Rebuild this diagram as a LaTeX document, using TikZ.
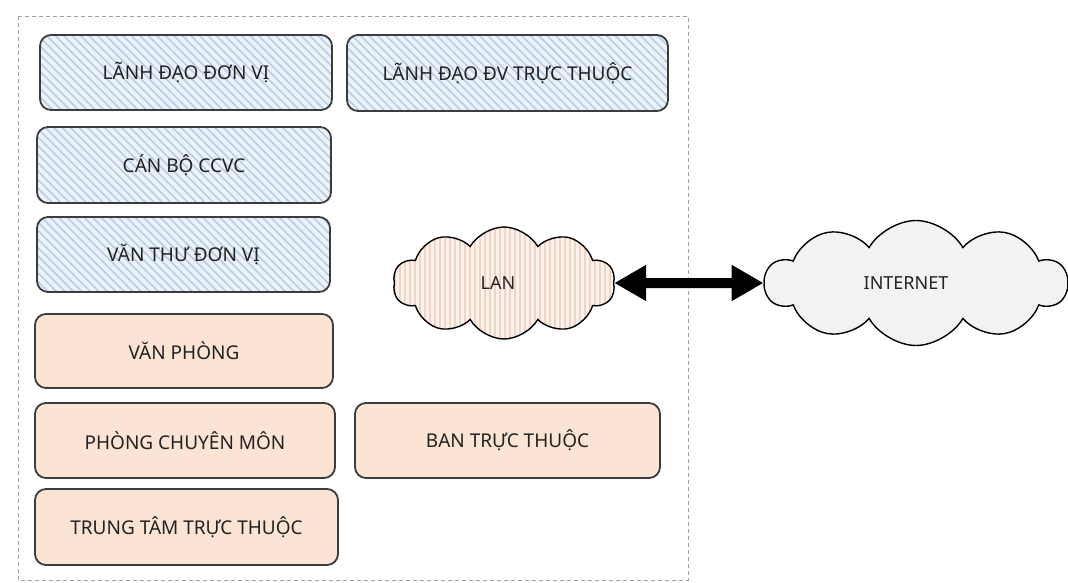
\documentclass[tikz,border=0pt]{standalone}
\usepackage{fontspec}
\setmainfont{Noto Sans}
\usetikzlibrary{shapes.symbols,patterns.meta,arrows.meta}
\definecolor{bluefill}{RGB}{236,242,249}
\definecolor{blueline}{RGB}{185,205,228}
\definecolor{orfill}{RGB}{252,228,212}
\definecolor{lanfill}{RGB}{253,242,236}
\definecolor{lanline}{RGB}{240,212,198}
\definecolor{netfill}{RGB}{242,242,242}
\definecolor{edge}{RGB}{60,60,60}
\definecolor{txt}{RGB}{35,35,35}
\definecolor{frame}{RGB}{160,160,160}
\tikzset{
  boxbase/.style={draw=edge, line width=1.8pt, rounded corners=11pt, inner sep=0pt,
    font=\fontsize{19}{21}\selectfont, text=txt},
  bluebox/.style={boxbase, preaction={fill=bluefill},
    pattern={Lines[angle=-45,distance=6pt,line width=1.6pt]}, pattern color=blueline},
  orbox/.style={boxbase, fill=orfill},
  cloudbase/.style={cloud, cloud puffs=10, cloud puff arc=120, aspect=2, draw=black,
    line width=1.4pt, inner sep=0pt, font=\fontsize{18}{20}\selectfont, text=txt},
  lancloud/.style={cloudbase, preaction={fill=lanfill},
    pattern={Lines[angle=90,distance=5pt,line width=1.4pt]}, pattern color=lanline},
  netcloud/.style={cloudbase, fill=netfill, font=\fontsize{18}{20}\selectfont\bfseries},
  link/.style={line width=10pt, {Triangle[length=32pt,width=34pt]}-{Triangle[length=32pt,width=34pt]}},
  outerframe/.style={draw=frame, line width=0.9pt, dash pattern=on 4pt off 3pt}
}
\begin{document}
\begin{tikzpicture}[x=1pt,y=-1pt]
\useasboundingbox (0,0) rectangle (1068,583);
\draw[outerframe] (18,16) rectangle (688,580);
\node[bluebox, minimum width=292pt, minimum height=75pt] (ldv) at (186,72.5) {LÃNH ĐẠO ĐƠN VỊ};
\node[bluebox, minimum width=321pt, minimum height=76pt] (ldtt) at (507.5,73) {LÃNH ĐẠO ĐV TRỰC THUỘC};
\node[bluebox, minimum width=294pt, minimum height=76pt] (cb) at (184,165) {CÁN BỘ CCVC};
\node[bluebox, minimum width=293pt, minimum height=75pt] (vt) at (183.5,254.5) {VĂN THƯ ĐƠN VỊ};
\node[orbox, minimum width=298pt, minimum height=74pt] (vp) at (184,351) {VĂN PHÒNG};
\node[orbox, minimum width=300pt, minimum height=75pt] (pcm) at (185,440.5) {PHÒNG CHUYÊN MÔN};
\node[orbox, minimum width=305pt, minimum height=75pt] (btt) at (507.5,440.5) {BAN TRỰC THUỘC};
\node[orbox, minimum width=303pt, minimum height=76pt] (tt) at (186.5,527) {TRUNG TÂM TRỰC THUỘC};
\node[lancloud, minimum width=222pt, minimum height=112pt] (lan) at (504,283) {LAN\hspace*{12pt}};
\node[netcloud, minimum width=302pt, minimum height=125pt] (net) at (916,283) {INTERNET\hspace*{20pt}};
\draw[link] (lan.east) -- (net.west);
\end{tikzpicture}
\end{document}
